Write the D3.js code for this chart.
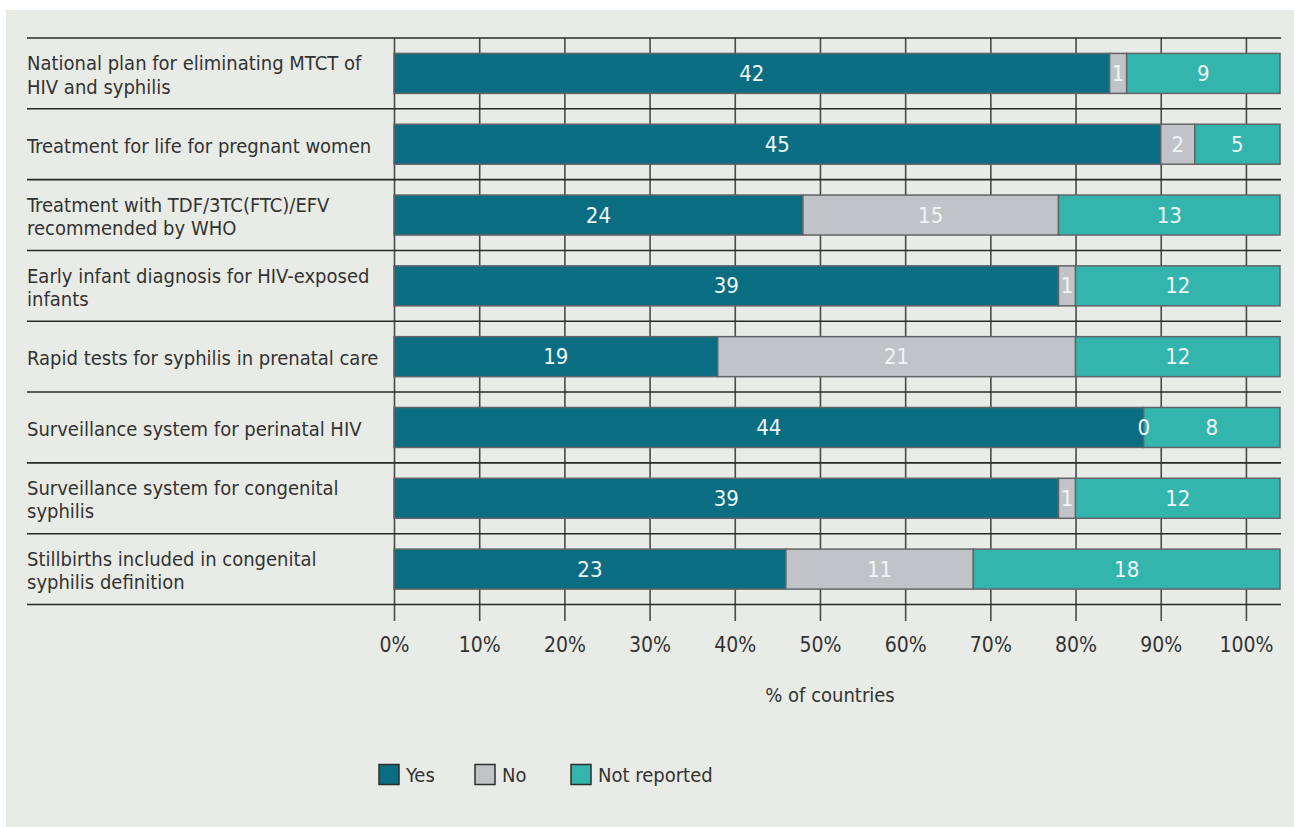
<!DOCTYPE html>
<html>
<head>
<meta charset="utf-8">
<script src="https://cdn.jsdelivr.net/npm/d3@7"></script>
<style>
  html, body { margin: 0; padding: 0; background: #ffffff; }
  svg { display: block; }
  text { font-family: "DejaVu Sans Condensed", "Liberation Sans Narrow", sans-serif; }
</style>
</head>
<body>
<svg id="chart" width="1294" height="827"></svg>
<script>
// ---- data ----
const categories = [
  ["National plan for eliminating MTCT of", "HIV and syphilis"],
  ["Treatment for life for pregnant women"],
  ["Treatment with TDF/3TC(FTC)/EFV", "recommended by WHO"],
  ["Early infant diagnosis for HIV-exposed", "infants"],
  ["Rapid tests for syphilis in prenatal care"],
  ["Surveillance system for perinatal HIV"],
  ["Surveillance system for congenital", "syphilis"],
  ["Stillbirths included in congenital", "syphilis definition"]
];
const seriesNames = ["Yes", "No", "Not reported"];
const yesValues = [42, 45, 24, 39, 19, 44, 39, 23];
const noValues = [1, 2, 15, 1, 21, 0, 1, 11];
const notReportedValues = [9, 5, 13, 12, 12, 8, 12, 18];
const tickValues = [0, 5, 10, 15, 20, 25, 30, 35, 40, 45, 50];
const tickLabels = ["0%", "10%", "20%", "30%", "40%", "50%", "60%", "70%", "80%", "90%", "100%"];
const axisTitle = "% of countries";

// ---- styles ----
const colors = ["#0b6d82", "#c1c4c7", "#33b5ae"];
const textColor = "#333333";

const svg = d3.select("#chart");

// panel
svg.append("rect").attr("x", 6).attr("y", 10).attr("width", 1288).attr("height", 817).attr("fill", "#e9ebe6");

const x = d3.scaleLinear().domain([0, 52]).range([394, 1280]);
const y = d3.scaleBand().domain(d3.range(categories.length)).range([38, 604.5]).paddingInner(0).paddingOuter(0);
const barH = 40;

const series = [yesValues, noValues, notReportedValues];
const stacked = categories.map((c, i) => {
  let acc = 0;
  return series.map((s, k) => {
    const d = { row: i, k, x0: acc, x1: acc + s[i], v: s[i] };
    acc += s[i];
    return d;
  });
});

// vertical gridlines via axis
const axisBottomY = 621;
const tickFont = 21;
const axis = d3.axisBottom(x)
  .tickValues(tickValues)
  .tickFormat((d, i) => tickLabels[i])
  .tickSizeInner(-(axisBottomY - 38))
  .tickSizeOuter(0)
  .tickPadding(16);
const gAxis = svg.append("g").attr("transform", `translate(0,${axisBottomY})`).call(axis);
gAxis.select(".domain").remove();
gAxis.selectAll(".tick line").attr("stroke", "#4a4a4a").attr("stroke-width", 1.6);
gAxis.selectAll(".tick text")
  .attr("fill", textColor)
  .attr("font-size", tickFont)
  .attr("font-family", null);

// horizontal separator lines
const bounds = y.domain().map(i => y(i)).concat([y.range()[1]]);
svg.append("g").selectAll("line").data(bounds).join("line")
  .attr("x1", 27).attr("x2", x(52) + 1)
  .attr("y1", d => d).attr("y2", d => d)
  .attr("stroke", "#2a2a2a").attr("stroke-width", 1.6);

// bars
const gBars = svg.append("g");
stacked.forEach(row => {
  row.forEach(d => {
    const yc = y(d.row) + y.bandwidth() / 2;
    if (d.v > 0) {
      gBars.append("rect")
        .attr("x", x(d.x0)).attr("y", yc - barH / 2)
        .attr("width", x(d.x1) - x(d.x0)).attr("height", barH)
        .attr("fill", colors[d.k])
        .attr("stroke", "#636466").attr("stroke-width", 1.5);
    }
  });
});
// bar labels
stacked.forEach(row => {
  row.forEach(d => {
    const yc = y(d.row) + y.bandwidth() / 2;
    gBars.append("text")
      .attr("x", (x(d.x0) + x(d.x1)) / 2)
      .attr("y", yc + 7.5)
      .attr("text-anchor", "middle")
      .attr("font-size", 22)
      .attr("fill", "#eef6f6")
      .text(d.v);
  });
});

// category labels
const gLab = svg.append("g");
categories.forEach((lines, i) => {
  const yc = y(i) + y.bandwidth() / 2;
  const t = gLab.append("text").attr("font-size", 20).attr("fill", textColor);
  lines.forEach((ln, j) => {
    t.append("tspan")
      .attr("x", 27)
      .attr("y", yc + 8.5 + (j - (lines.length - 1) / 2) * 23.4)
      .text(ln);
  });
});

// axis title
svg.append("text").attr("x", 830).attr("y", 702).attr("text-anchor", "middle")
  .attr("font-size", 20).attr("fill", textColor).text(axisTitle);

// legend
const legendX = [379, 475, 571];
const gLeg = svg.append("g");
seriesNames.forEach((n, k) => {
  gLeg.append("rect").attr("x", legendX[k]).attr("y", 764.5).attr("width", 20).attr("height", 20)
    .attr("fill", colors[k]).attr("stroke", "#2e2e2e").attr("stroke-width", 1.5);
  gLeg.append("text").attr("x", legendX[k] + 27).attr("y", 781.5)
    .attr("font-size", 20).attr("fill", textColor).text(n);
});
</script>
</body>
</html>
